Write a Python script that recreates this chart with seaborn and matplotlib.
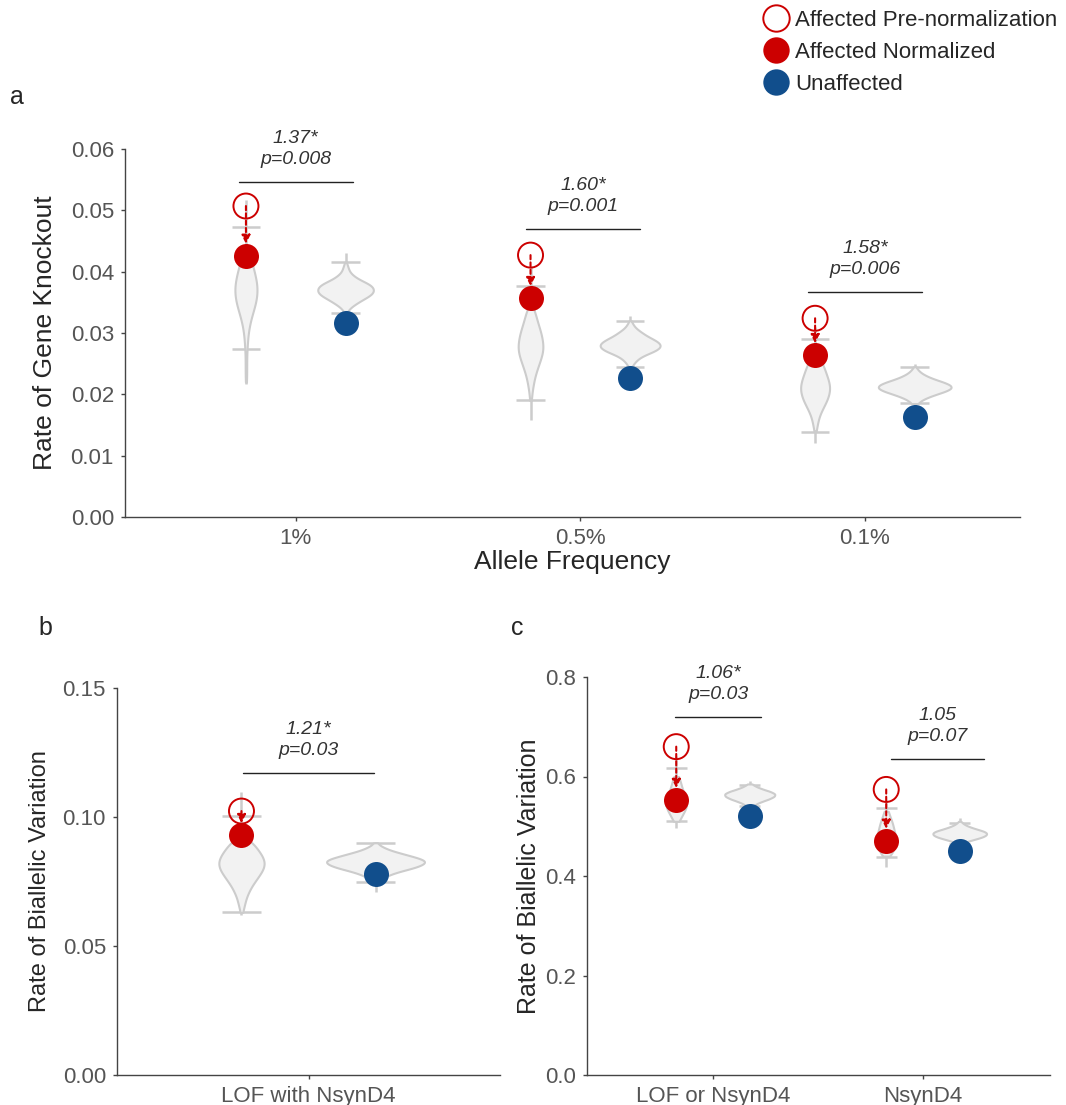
import numpy as np
import pandas as pd
import matplotlib.pyplot as plt
import seaborn as sns
from matplotlib.lines import Line2D

sns.set_style("ticks")
plt.rcParams["font.family"] = ["Liberation Sans", "DejaVu Sans"]

RED = "#CC0000"
BLUE = "#114E8C"
VFILL = "#F2F2F2"
VEDGE = "#CCCCCC"
TICKC = "#555555"

# ---------------- panel a data ----------------
freq_cats = ["1%", "0.5%", "0.1%"]
a_pre = [0.0507, 0.0427, 0.0324]
a_norm = [0.0426, 0.0357, 0.0264]
a_unaff = [0.0316, 0.0227, 0.0163]
a_ratio = ["1.37*", "1.60*", "1.58*"]
a_pval = ["p=0.008", "p=0.001", "p=0.006"]
a_bar_y = [0.0546, 0.0470, 0.0367]
a_bar_x0 = [-0.20, -0.19, -0.20]
a_bar_x1 = [0.20, 0.21, 0.20]

# range lines (min/max) and caps for each violin
a_aff_lo = [0.0217, 0.0158, 0.0120]
a_aff_hi = [0.0517, 0.0410, 0.0310]
a_aff_cap_lo = [0.0274, 0.0191, 0.0139]
a_aff_cap_hi = [0.0473, 0.0377, 0.0290]
a_un_lo = [0.0320, 0.0235, 0.0178]
a_un_hi = [0.0430, 0.0328, 0.0249]
a_un_cap_lo = [0.0333, 0.0245, 0.0186]
a_un_cap_hi = [0.0416, 0.0320, 0.0245]

# violin shapes: value levels and relative counts
a_aff_1_lv = [0.022, 0.023, 0.024, 0.025, 0.026, 0.027, 0.028, 0.029, 0.030, 0.031, 0.032,
              0.033, 0.034, 0.035, 0.036, 0.037, 0.038, 0.039, 0.040, 0.041, 0.042, 0.043]
a_aff_1_n = [1, 1, 1, 1, 1, 1, 2, 2, 3, 4, 6, 8, 11, 13, 15, 15, 15, 13, 11, 9, 7, 4]
a_aff_05_lv = [0.019, 0.020, 0.021, 0.022, 0.023, 0.024, 0.025, 0.026, 0.027, 0.028,
               0.029, 0.030, 0.031, 0.032, 0.033, 0.034]
a_aff_05_n = [1, 1, 2, 3, 4, 6, 8, 10, 12, 12, 11, 10, 8, 6, 5, 3]
a_aff_01_lv = [0.014, 0.015, 0.016, 0.017, 0.018, 0.019, 0.020, 0.021, 0.022, 0.023,
               0.024, 0.025, 0.026]
a_aff_01_n = [1, 2, 3, 5, 8, 11, 13, 14, 13, 11, 9, 7, 4]
a_un_1_lv = [0.0335, 0.034, 0.0345, 0.035, 0.0355, 0.036, 0.0365, 0.037, 0.0375,
             0.038, 0.0385, 0.039, 0.0395, 0.040, 0.0405, 0.041, 0.0415]
a_un_1_n = [2, 4, 8, 13, 18, 24, 28, 29, 28, 24, 17, 11, 7, 4, 3, 2, 1]
a_un_05_lv = [0.0245, 0.025, 0.0255, 0.026, 0.0265, 0.027, 0.0275, 0.028, 0.0285,
              0.029, 0.0295, 0.030, 0.0305, 0.031, 0.0315, 0.032]
a_un_05_n = [2, 4, 7, 11, 18, 27, 33, 35, 32, 26, 19, 14, 9, 5, 3, 1]
a_un_01_lv = [0.0185, 0.019, 0.0195, 0.020, 0.0205, 0.021, 0.0215, 0.022, 0.0225,
              0.023, 0.0235, 0.024, 0.0245]
a_un_01_n = [3, 6, 12, 20, 29, 35, 34, 27, 18, 11, 6, 3, 1]

# ---------------- panel b data ----------------
b_cats = ["LOF with NsynD4"]
b_pre = [0.1023]
b_norm = [0.0930]
b_unaff = [0.0780]
b_ratio = ["1.21*"]
b_pval = ["p=0.03"]
b_bar_y = [0.117]
b_bar_x0 = [-0.17]
b_bar_x1 = [0.17]
b_aff_lo = [0.0620]
b_aff_hi = [0.1097]
b_aff_cap_lo = [0.0632]
b_aff_cap_hi = [0.1004]
b_un_lo = [0.0710]
b_un_hi = [0.0903]
b_un_cap_lo = [0.0748]
b_un_cap_hi = [0.0899]
b_aff_lv = [0.063, 0.065, 0.067, 0.069, 0.071, 0.073, 0.075, 0.077, 0.079, 0.081,
            0.083, 0.085, 0.087, 0.089, 0.091]
b_aff_n = [1, 2, 3, 4, 6, 8, 11, 14, 17, 19, 19, 17, 14, 11, 7]
b_un_lv = [0.075, 0.076, 0.077, 0.078, 0.079, 0.080, 0.081, 0.082, 0.083, 0.084,
           0.085, 0.086, 0.087, 0.088, 0.089, 0.090]
b_un_n = [3, 6, 10, 16, 24, 34, 42, 47, 48, 42, 33, 24, 15, 9, 4, 2]

# ---------------- panel c data ----------------
c_cats = ["LOF or NsynD4", "NsynD4"]
c_pre = [0.660, 0.574]
c_norm = [0.553, 0.471]
c_unaff = [0.520, 0.451]
c_ratio = ["1.06*", "1.05"]
c_pval = ["p=0.03", "p=0.07"]
c_bar_y = [0.720, 0.635]
c_bar_x0 = [-0.18, -0.15]
c_bar_x1 = [0.23, 0.29]
c_aff_lo = [0.496, 0.418]
c_aff_hi = [0.641, 0.553]
c_aff_cap_lo = [0.510, 0.438]
c_aff_cap_hi = [0.617, 0.537]
c_un_lo = [0.530, 0.455]
c_un_hi = [0.590, 0.516]
c_un_cap_lo = [0.541, 0.465]
c_un_cap_hi = [0.583, 0.506]
c_aff_1_lv = [0.51, 0.52, 0.53, 0.54, 0.55, 0.56, 0.57, 0.58, 0.59, 0.60]
c_aff_1_n = [2, 4, 6, 8, 8, 7, 5, 4, 3, 2]
c_un_1_lv = [0.54, 0.545, 0.55, 0.555, 0.56, 0.565, 0.57, 0.575, 0.58, 0.585]
c_un_1_n = [3, 6, 12, 19, 24, 25, 20, 12, 6, 2]
c_aff_2_lv = [0.44, 0.45, 0.46, 0.47, 0.48, 0.49, 0.50, 0.51, 0.52, 0.53]
c_aff_2_n = [3, 6, 8, 9, 8, 7, 6, 5, 3, 2]
c_un_2_lv = [0.466, 0.470, 0.474, 0.478, 0.482, 0.486, 0.490, 0.494, 0.498, 0.502,
             0.506, 0.510]
c_un_2_n = [3, 8, 15, 22, 26, 27, 24, 17, 11, 6, 3, 1]

OFF = 0.175  # dodge offset for width=0.7 with two hue levels
CAPW = 0.05


def long_df(cats, aff_shapes, un_shapes):
    frames = []
    for cat, (alv, an), (ulv, un) in zip(cats, aff_shapes, un_shapes):
        frames.append(pd.DataFrame({"cat": cat, "group": "Affected",
                                    "rate": np.repeat(alv, an)}))
        frames.append(pd.DataFrame({"cat": cat, "group": "Unaffected",
                                    "rate": np.repeat(ulv, un)}))
    return pd.concat(frames, ignore_index=True)


def draw_panel(ax, cats, df, pre, norm, unaff, rng, ratio, pval, bar_y, bx0, bx1, ms):
    sns.violinplot(data=df, x="cat", y="rate", hue="group", order=cats,
                   hue_order=["Affected", "Unaffected"],
                   palette=[VFILL, VFILL], width=0.7, gap=0.27, inner=None,
                   cut=0, density_norm="area", common_norm=True, bw_adjust=0.8,
                   linecolor=VEDGE, linewidth=1.5, legend=False, ax=ax)
    pos = np.arange(len(cats))
    xa = pos - OFF
    xu = pos + OFF
    alo, ahi, aclo, achi, ulo, uhi, uclo, uchi = rng
    for xs, lo, hi, clo, chi in [(xa, alo, ahi, aclo, achi), (xu, ulo, uhi, uclo, uchi)]:
        ax.vlines(xs, lo, hi, color=VEDGE, lw=1.8, zorder=0.5)
        ax.hlines(clo, xs - CAPW, xs + CAPW, color=VEDGE, lw=1.8, zorder=0.5)
        ax.hlines(chi, xs - CAPW, xs + CAPW, color=VEDGE, lw=1.8, zorder=0.5)
    # dashed arrow from pre-normalization to normalized
    for x, p, n in zip(xa, pre, norm):
        ax.annotate("", xy=(x, n), xytext=(x, p),
                    arrowprops=dict(arrowstyle="-|>,head_length=0.5,head_width=0.25",
                                    color=RED, lw=1.5, linestyle=(0, (2, 1.5)),
                                    shrinkA=0, shrinkB=ms / 2 * 0.95),
                    zorder=4)
    ax.scatter(xa, pre, s=ms ** 2, facecolor="none", edgecolor=RED, lw=1.4, zorder=5)
    ax.scatter(xa, norm, s=ms ** 2, color=RED, lw=0, zorder=6)
    ax.scatter(xu, unaff, s=ms ** 2, color=BLUE, lw=0, zorder=6)
    for p, r, pv, y, x0, x1 in zip(pos, ratio, pval, bar_y, bx0, bx1):
        ax.plot([p + x0, p + x1], [y, y], color="#222222", lw=1.0)
        ax.annotate(f"{r}\n{pv}", xy=(p + (x0 + x1) / 2, y), xytext=(0, 10),
                    textcoords="offset points", ha="center", va="bottom",
                    fontsize=14, style="italic", color="#333333",
                    linespacing=1.3)
    sns.despine(ax=ax)
    for s in ["left", "bottom"]:
        ax.spines[s].set_color("#444444")
        ax.spines[s].set_linewidth(1.0)
    ax.tick_params(axis="both", length=3, width=1, color="#444444",
                   labelcolor=TICKC, labelsize=16, pad=5)
    ax.set_xlabel("")


fig = plt.figure(figsize=(10.66, 11.05), dpi=100)

ax_a = fig.add_axes([125 / 1066, 1 - 517 / 1105, 895 / 1066, 368 / 1105])
ax_b = fig.add_axes([117 / 1066, 1 - 1075 / 1105, 383 / 1066, 387 / 1105])
ax_c = fig.add_axes([587 / 1066, 1 - 1075 / 1105, 463 / 1066, 398 / 1105])

df_a = long_df(freq_cats,
               [(a_aff_1_lv, a_aff_1_n), (a_aff_05_lv, a_aff_05_n), (a_aff_01_lv, a_aff_01_n)],
               [(a_un_1_lv, a_un_1_n), (a_un_05_lv, a_un_05_n), (a_un_01_lv, a_un_01_n)])
draw_panel(ax_a, freq_cats, df_a, a_pre, a_norm, a_unaff,
           (a_aff_lo, a_aff_hi, a_aff_cap_lo, a_aff_cap_hi,
            a_un_lo, a_un_hi, a_un_cap_lo, a_un_cap_hi),
           a_ratio, a_pval, a_bar_y, a_bar_x0, a_bar_x1, 18)
ax_a.set_xlim(-0.6, 2.545)
ax_a.set_ylim(0, 0.06)
ax_a.set_yticks(np.arange(0, 0.061, 0.01))
ax_a.set_yticklabels([f"{v:.2f}" for v in np.arange(0, 0.061, 0.01)])
ax_a.set_ylabel("Rate of Gene Knockout", fontsize=19, labelpad=10)
ax_a.set_xlabel("Allele Frequency", fontsize=19, labelpad=1)

df_b = long_df(b_cats, [(b_aff_lv, b_aff_n)], [(b_un_lv, b_un_n)])
draw_panel(ax_b, b_cats, df_b, b_pre, b_norm, b_unaff,
           (b_aff_lo, b_aff_hi, b_aff_cap_lo, b_aff_cap_hi,
            b_un_lo, b_un_hi, b_un_cap_lo, b_un_cap_hi),
           b_ratio, b_pval, b_bar_y, b_bar_x0, b_bar_x1, 18)
ax_b.set_xlim(-0.5, 0.5)
ax_b.set_ylim(0, 0.15)
ax_b.set_yticks([0, 0.05, 0.10, 0.15])
ax_b.set_yticklabels(["0.00", "0.05", "0.10", "0.15"])
ax_b.set_ylabel("Rate of Biallelic Variation", fontsize=17, labelpad=8)

df_c = long_df(c_cats, [(c_aff_1_lv, c_aff_1_n), (c_aff_2_lv, c_aff_2_n)],
               [(c_un_1_lv, c_un_1_n), (c_un_2_lv, c_un_2_n)])
draw_panel(ax_c, c_cats, df_c, c_pre, c_norm, c_unaff,
           (c_aff_lo, c_aff_hi, c_aff_cap_lo, c_aff_cap_hi,
            c_un_lo, c_un_hi, c_un_cap_lo, c_un_cap_hi),
           c_ratio, c_pval, c_bar_y, c_bar_x0, c_bar_x1, 18)
ax_c.set_xlim(-0.6, 1.605)
ax_c.set_ylim(0, 0.8)
ax_c.set_yticks([0, 0.2, 0.4, 0.6, 0.8])
ax_c.set_yticklabels(["0.0", "0.2", "0.4", "0.6", "0.8"])
ax_c.set_ylabel("Rate of Biallelic Variation", fontsize=18, labelpad=3)

fig.text(10 / 1066, 1 - 97 / 1105, "a", fontsize=18, va="center")
fig.text(38 / 1066, 1 - 628 / 1105, "b", fontsize=18, va="center")
fig.text(511 / 1066, 1 - 628 / 1105, "c", fontsize=18, va="center")

handles = [
    Line2D([], [], marker="o", ls="", ms=19, mfc="none", mec=RED, mew=1.4),
    Line2D([], [], marker="o", ls="", ms=19, mfc=RED, mec=RED, mew=0),
    Line2D([], [], marker="o", ls="", ms=19, mfc=BLUE, mec=BLUE, mew=0),
]
labels = ["Affected Pre-normalization", "Affected Normalized", "Unaffected"]
fig.legend(handles, labels, loc="upper left", bbox_to_anchor=(763 / 1066, 1 - 10 / 1105),
           frameon=False, fontsize=16, handletextpad=0.25, labelspacing=0.5,
           handlelength=1.2, borderaxespad=0, borderpad=0)

fig.savefig("out.png", dpi=100)
